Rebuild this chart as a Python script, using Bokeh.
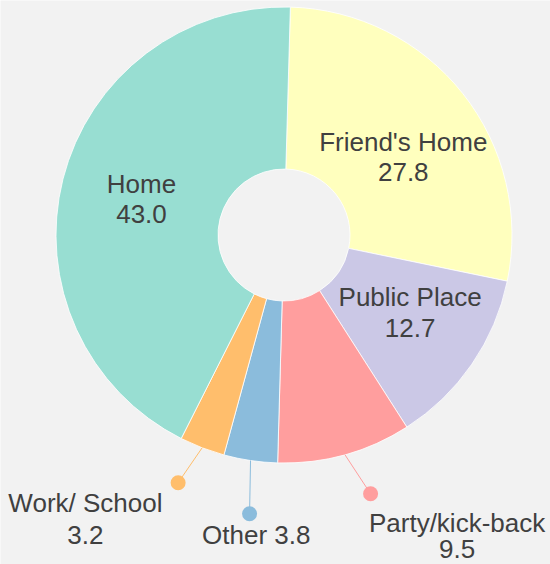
import numpy as np
from bokeh.plotting import figure
from bokeh.models import Range1d, ColumnDataSource
from bokeh.embed import file_html
from bokeh.resources import INLINE
from bokeh.core.properties import value

# ---- data ----
categories = ["Friend's Home", "Public Place", "Party/kick-back", "Other", "Work/ School", "Home"]
shares = [27.8, 12.7, 9.5, 3.8, 3.2, 43.0]
colors = ["#ffffbe", "#cbc8e6", "#ff9e9e", "#8bbcdc", "#ffbe6c", "#98ded2"]

# ---- layout / style ----
W, H = 550, 564
CX, CY = 283.5, 234.5          # centre in page pixels
R_OUT, R_IN = 228, 66
START = 1.6                    # degrees clockwise from 12 o'clock
BG = "#f2f2f2"
TXT = "#404040"
FONT = value("Liberation Sans")
FS = "26px"
BASE_SHIFT = -9                # baseline correction for text rendering

p = figure(width=W, height=H, x_range=Range1d(0, W), y_range=Range1d(0, H),
           output_backend="svg", toolbar_location=None, min_border=0,
           background_fill_color=BG, border_fill_color=BG, outline_line_color=None)
p.axis.visible = False
p.grid.visible = False

vals = np.array(shares, dtype=float)
cum = np.concatenate([[0.0], np.cumsum(vals)])
tot = cum[-1]
t1 = START + cum[:-1] / tot * 360.0
t2 = START + cum[1:] / tot * 360.0
tm = (t1 + t2) / 2.0

src = ColumnDataSource(dict(
    start=np.radians(90 - t2), end=np.radians(90 - t1),
    color=colors, cat=categories, val=shares))
p.annular_wedge(x=CX, y=H - CY, inner_radius=R_IN, outer_radius=R_OUT,
                start_angle="start", end_angle="end", fill_color="color",
                line_color="white", line_width=0.8, source=src)


def polar(r, deg):
    a = np.radians(deg)
    return CX + r * np.sin(a), CY - r * np.cos(a)   # page coords


def txt(x, y_page, s, align="center"):
    y_page = y_page + BASE_SHIFT
    p.text(x=[x], y=[H - y_page], text=[s], text_font=FONT, text_font_size=FS,
           text_color=TXT, text_align=align, text_baseline="alphabetic")


# inside labels: index -> (nudge dx, nudge dy)
inside = {0: (4, 13), 1: (5, -6), 5: (0, 0)}
for i, (ndx, ndy) in inside.items():
    x, y = polar(147, tm[i])
    x += ndx
    y += ndy
    txt(x, y - 6, categories[i])
    txt(x, y + 24.5, f"{shares[i]:.1f}")

# outside labels: index -> (dot radius, angle offset, text dx, name dy, value dy or None)
outside = {
    4: (269.4, 2.1, -92.7, 29.4, 61.0),
    3: (280.9, -1.4, 6.7, 30.7, None),
    2: (272.9, -3.0, 86.5, 38.4, 64.0),
}
for i, (rd, da, tdx, ndy, vdy) in outside.items():
    x0, y0 = polar(R_OUT, tm[i])
    xd, yd = polar(rd, tm[i] + da)
    p.line(x=[x0, xd], y=[H - y0, H - yd], line_color=colors[i], line_width=1)
    p.scatter(x=[xd], y=[H - yd], size=15, fill_color=colors[i], line_color=None)
    if vdy is None:
        txt(xd + tdx, yd + ndy, f"{categories[i]} {shares[i]:.1f}")
    else:
        txt(xd + tdx, yd + ndy, categories[i])
        txt(xd + tdx, yd + vdy, f"{shares[i]:.1f}")

html = file_html(p, INLINE)
html = html.replace("<body>", '<body style="margin:0;background:%s;overflow:hidden;">' % BG, 1)
open("out.html", "w").write(html)
